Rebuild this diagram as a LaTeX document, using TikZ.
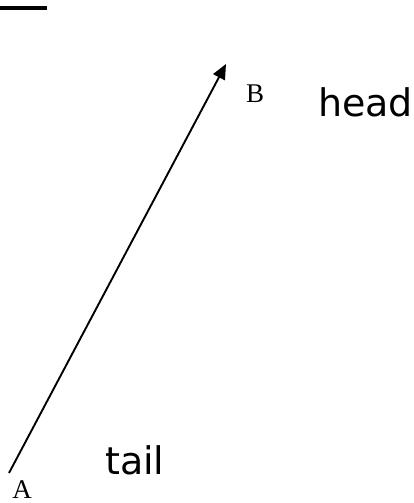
\documentclass[tikz,border=0pt]{standalone}
\usepackage{fontspec}
\setmainfont{Liberation Serif}
\newfontfamily\handfont{DejaVu Sans}
\usetikzlibrary{arrows.meta}
\tikzset{
  vec/.style={line width=1.9pt,-{Triangle[length=15pt,width=13pt]}},
  pointlabel/.style={inner sep=0pt,font=\fontsize{27}{29}\selectfont},
  wordlabel/.style={inner sep=0pt,anchor=base west,font=\handfont\fontsize{38}{40}\selectfont}
}
\begin{document}
\begin{tikzpicture}[x=1pt,y=1pt]
\useasboundingbox (0,0) rectangle (414,503);
\fill[black] (0,493) rectangle (47,497);
\coordinate (A) at (9,30);
\coordinate (B) at (226,439);
\draw[vec] (A) -- (B);
\node[pointlabel,anchor=base] (la) at (22,5) {A};
\node[pointlabel,anchor=base west] (lb) at (246,400) {B};
\node[wordlabel] (head) at (318,386) {head};
\node[wordlabel] (tail) at (105,28) {tail};
\end{tikzpicture}
\end{document}
